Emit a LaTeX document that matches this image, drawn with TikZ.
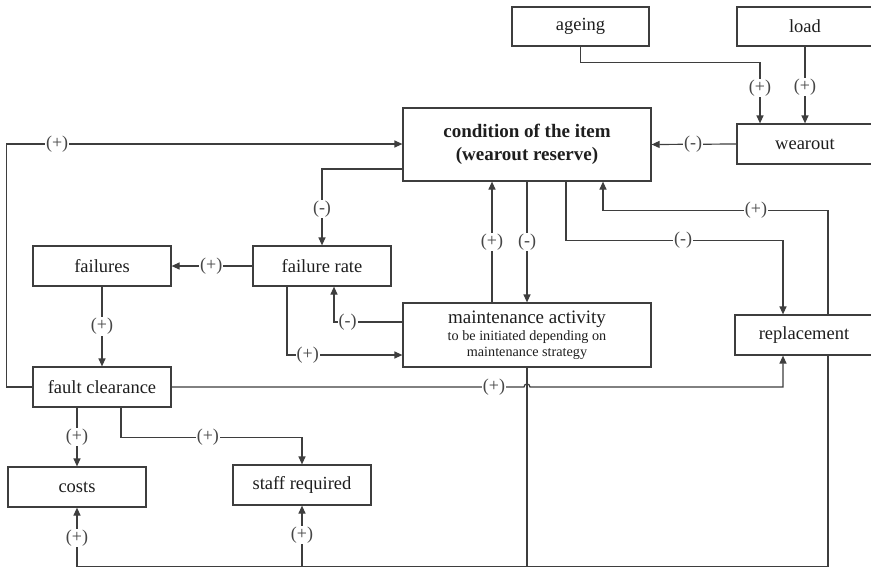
\documentclass[tikz,border=0pt]{standalone}
\usepackage{fontspec}
\setmainfont{Liberation Serif}
\usetikzlibrary{arrows.meta,calc}
\definecolor{linec}{RGB}{62,62,62}
\definecolor{txtc}{RGB}{30,30,30}
\definecolor{lblc}{RGB}{70,70,70}
\begin{document}
\begin{tikzpicture}[x=1pt,y=-1pt,
  box/.style={draw=linec, line width=1.2pt, fill=white, inner sep=0pt, text=txtc,
    minimum width=138pt, minimum height=40pt, font=\fontsize{18.5}{22}\selectfont},
  conn/.style={draw=linec, line width=1.2pt},
  arr/.style={conn, -{Triangle[length=8pt,width=7pt]}},
  lbl/.style={fill=white, inner sep=1pt, text=lblc, font=\fontsize{18}{20}\selectfont}]
\useasboundingbox (0,0) rectangle (871,568);
\clip (0,0) rectangle (871,568);
% nodes
\node[box, minimum width=137pt, minimum height=39pt] (ageing) at (580.5,26.5) {ageing};
\node[box, minimum width=136pt, minimum height=39pt] (load) at (805,26.5) {load};
\node[box, minimum width=136pt] (wearout) at (805,144) {wearout};
\node[box, minimum width=248pt, minimum height=73pt, align=center,
  font=\fontsize{19}{23}\selectfont\bfseries] (cond) at (527,144.5) {condition of the item\\(wearout reserve)};
\node[box] (failures) at (102,266) {failures};
\node[box] (frate) at (322,266) {failure rate};
\node[box, minimum width=248pt, minimum height=64pt, align=center] (maint) at (527,335)
  {{\fontsize{19}{20}\selectfont maintenance activity}\\[-5pt]
   {\fontsize{14.2}{17}\selectfont to be initiated depending on}\\[-6pt]
   {\fontsize{14.2}{17}\selectfont maintenance strategy}};
\node[box] (repl) at (804,335) {replacement};
\node[box] (fault) at (102,387) {fault clearance};
\node[box] (costs) at (77,487) {costs};
\node[box] (staff) at (302,485) {staff required};
% helper coordinates
\coordinate (hop) at (maint.south |- fault.east);
\coordinate (bR) at (828,566.5);
\coordinate (bL) at (77,566.5);
% connectors
\draw[arr] (ageing.south) -- ++(0,16) -| node[lbl,pos=0.71] (l1) {(+)} ([xshift=-45pt]wearout.north);
\draw[arr] (load.south) -- node[lbl,pos=0.53] (l2) {(+)} (wearout.north);
\draw[arr] (wearout.west) -- node[lbl,pos=0.51] (l3) {(-)} (cond.east);
\draw[arr] (fault.west) -- ++(-26,0) |- node[lbl,pos=0.564] (l4) {(+)} ([yshift=0.5pt]cond.west);
\draw[arr] ([yshift=-24.5pt]cond.west) -| node[lbl,pos=0.76] (l5) {(-)} (frate.north);
\draw[arr] (frate.west) -- node[lbl,pos=0.51] (l6) {(+)} (failures.east);
\draw[arr] (failures.south) -- node[lbl,pos=0.5] (l7) {(+)} (fault.north);
\draw[arr] ([xshift=-35pt]frate.south) |- node[lbl,pos=0.59] (l8) {(+)} ([yshift=-20pt]maint.west);
\draw[arr] ([yshift=13pt]maint.west) -| node[lbl,pos=0.4] (l9) {(-)} ([xshift=12pt]frate.south);
\draw[arr] ([xshift=-35pt]maint.north) -- node[lbl,pos=0.5] (l10) {(+)} ([xshift=-35pt]cond.south);
\draw[arr] (cond.south) -- node[lbl,pos=0.5] (l11) {(-)} (maint.north);
\draw[arr] ([xshift=39pt]cond.south) -- ++(0,59) -| node[lbl,pos=0.27] (l12) {(-)} ([xshift=-21pt]repl.north);
\draw[arr] ([xshift=24pt]repl.north) -- ++(0,-104) -| node[lbl,pos=0.16] (l13) {(+)} ([xshift=76pt]cond.south);
\draw[arr] (fault.east) -- node[lbl,pos=0.915] (l14) {(+)} ([xshift=-3pt]hop)
  .. controls ([xshift=-3pt,yshift=4pt]hop) and ([xshift=3pt,yshift=4pt]hop) .. ([xshift=3pt]hop)
  -| ([xshift=-21pt]repl.south);
\draw[arr] ([xshift=-25pt]fault.south) -- node[lbl,pos=0.5] (l15) {(+)} (costs.north);
\draw[arr] ([xshift=19pt]fault.south) -- ++(0,30) -| node[lbl,pos=0.24] (l16) {(+)} (staff.north);
\draw[conn] ([xshift=24pt]repl.south) -- (bR) -- (bL);
\draw[conn] (maint.south) -- (maint.south |- bL);
\draw[arr] (bL) -- node[lbl,pos=0.48] (l17) {(+)} (costs.south);
\draw[arr] (staff.south |- bL) -- node[lbl,pos=0.52] (l18) {(+)} (staff.south);
\end{tikzpicture}
\end{document}
